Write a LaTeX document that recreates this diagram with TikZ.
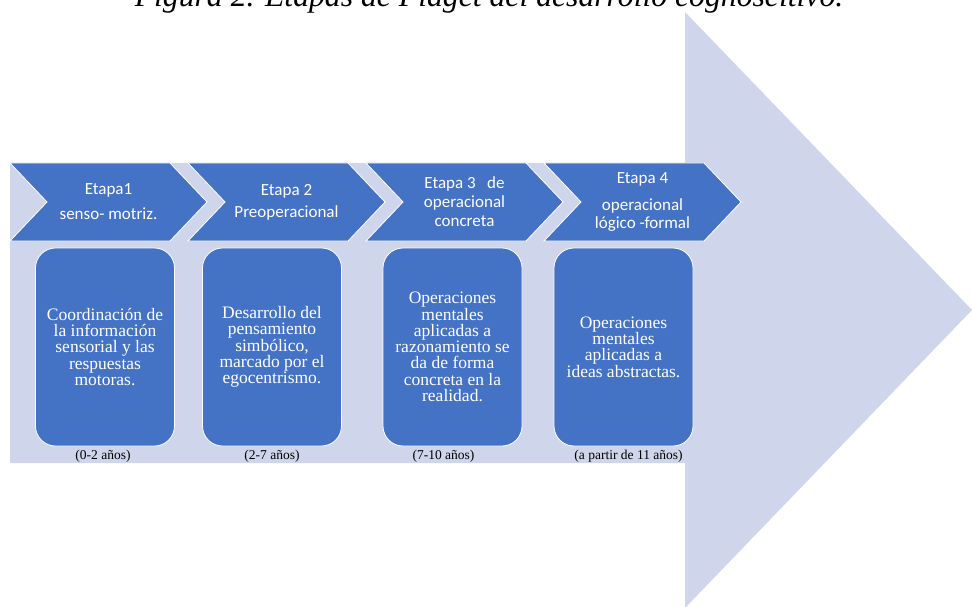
\documentclass[tikz,border=0pt]{standalone}
\usepackage{fontspec}
\setmainfont{Liberation Serif}
\newfontfamily\chevfont{Carlito}
\definecolor{stageBlue}{RGB}{68,114,196}
\definecolor{arrowLavender}{RGB}{207,213,234}
\usetikzlibrary{positioning,shapes.symbols}

\begin{document}
\begin{tikzpicture}[x=1pt, y=-1pt,
    stagechev/.style={signal, signal from=west, signal to=east, signal pointer angle=93, fill=stageBlue, draw=white, line width=0.8pt, minimum width=197pt, minimum height=78pt, inner sep=0pt, text=white, align=center, font=\chevfont\fontsize{17}{19}\selectfont},
    stagebox/.style={rectangle, rounded corners=20pt, fill=stageBlue, draw=white, line width=0.8pt, minimum width=139pt, minimum height=198pt, inner sep=0pt, text=white, align=center, font=\fontsize{17.5}{16.3}\selectfont},
    agelabel/.style={inner sep=0pt, font=\fontsize{13.5}{14}\selectfont}]
    \useasboundingbox (0,0) rectangle (972,607);

    % big background arrow
    \fill[arrowLavender] (10,163) -- (685,163) -- (685,12) -- (972,310) -- (685,608) -- (685,463) -- (10,463) -- cycle;

    \node[anchor=base, inner sep=0pt, font=\itshape\fontsize{31.7}{34}\selectfont] (caption) at (489,7) {Figura 2. Etapas de Piaget del desarrollo cognoscitivo.};

    % stages
    \node[stagechev] (etapa1) at (108.5,202) {Etapa1\\[6pt]senso- motriz.};
    \node[stagechev] (etapa2) at (286.5,202) {Etapa 2\\[3pt]Preoperacional};
    \node[stagechev] (etapa3) at (464.5,202) {Etapa 3\ \ \ de\\operacional\\concreta};
    \node[stagechev] (etapa4) at (642.5,202) {Etapa 4\\[8pt]operacional\\[-1pt]lógico -formal};

    \node[stagebox] (desc1) at (105,347) {Coordinación de\\la información\\sensorial y las\\respuestas\\motoras.};
    \node[stagebox] (desc2) at (272,347) {Desarrollo del\\pensamiento\\simbólico,\\marcado por el\\egocentrismo.};
    \node[stagebox] (desc3) at (452.5,347) {Operaciones\\mentales\\aplicadas a\\razonamiento se\\da de forma\\concreta en la\\realidad.};
    \node[stagebox] (desc4) at (623.5,347) {Operaciones\\mentales\\aplicadas a\\ideas abstractas.};

    % ages
    \node[agelabel, below=4pt of desc1, xshift=-2pt] (edad1) {(0-2 años)};
    \node[agelabel, below=4pt of desc2] (edad2) {(2-7 años)};
    \node[agelabel, below=4pt of desc3, xshift=-9pt] (edad3) {(7-10 años)};
    \node[agelabel, below=4pt of desc4, xshift=5pt] (edad4) {(a partir de 11 años)};
\end{tikzpicture}
\end{document}
